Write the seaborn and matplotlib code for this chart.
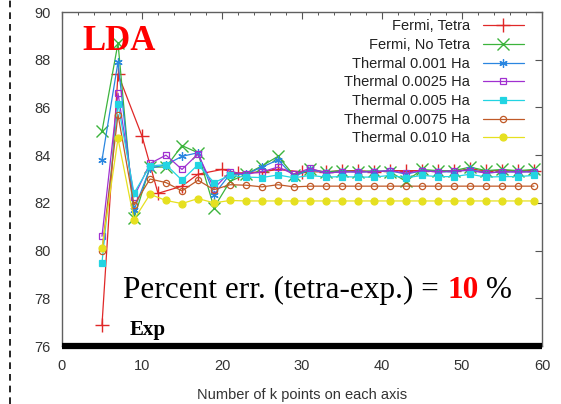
import matplotlib
matplotlib.use("Agg")
import matplotlib.pyplot as plt
import seaborn as sns
from matplotlib.ticker import MultipleLocator
from matplotlib.lines import Line2D

# ---------------- data ----------------
k_points = [5, 7, 9, 11, 13, 15, 17, 19, 21, 23, 25, 27, 29, 31, 33, 35, 37, 39,
            41, 43, 45, 47, 49, 51, 53, 55, 57, 59]
tetra_k = [5, 7, 10, 12, 15, 17, 20, 22, 25, 27, 30, 33, 35, 37, 39, 41, 43, 45,
           47, 49, 51, 53, 55, 57, 59]
fermi_tetra = [76.9, 87.4, 84.8, 82.4, 82.7, 83.2, 83.4, 83.25, 83.3, 83.4, 83.3, 83.3,
               83.35, 83.35, 83.3, 83.35, 83.35, 83.35, 83.35, 83.35, 83.4, 83.35,
               83.35, 83.35, 83.35]
fermi_no_tetra = [85.0, 88.7, 81.35, 83.5, 83.5, 84.4, 84.1, 81.8, 82.9, 83.2, 83.55,
                  83.95, 83.15, 83.4, 83.3, 83.35, 83.3, 83.35, 83.3, 82.9, 83.4, 83.35,
                  83.35, 83.5, 83.35, 83.4, 83.35, 83.4]
thermal_0001 = [83.8, 87.9, 81.7, 83.45, 83.6, 83.95, 84.1, 82.35, 83.2, 83.2, 83.5,
                83.8, 83.1, 83.4, 83.25, 83.3, 83.3, 83.3, 83.35, 83.2, 83.35, 83.3,
                83.3, 83.4, 83.25, 83.3, 83.3, 83.3]
thermal_00025 = [80.6, 86.6, 82.25, 83.65, 84.0, 83.4, 84.05, 82.6, 83.3, 83.2, 83.3,
                 83.5, 83.2, 83.45, 83.25, 83.3, 83.3, 83.3, 83.35, 83.25, 83.35, 83.3,
                 83.35, 83.35, 83.25, 83.3, 83.3, 83.3]
thermal_0005 = [79.5, 86.15, 82.4, 83.55, 83.6, 82.95, 83.6, 82.85, 83.15, 83.08, 83.06,
                83.17, 83.05, 83.15, 83.08, 83.1, 83.08, 83.08, 83.15, 83.05, 83.15, 83.1,
                83.1, 83.2, 83.08, 83.1, 83.1, 83.15]
thermal_00075 = [80.0, 85.7, 81.9, 83.0, 82.85, 82.5, 82.95, 82.55, 82.76, 82.74, 82.67,
                 82.76, 82.67, 82.7, 82.7, 82.7, 82.7, 82.7, 82.7, 82.7, 82.7, 82.7,
                 82.7, 82.7, 82.7, 82.7, 82.7, 82.7]
thermal_0010 = [80.1, 84.7, 81.3, 82.36, 82.1, 81.97, 82.18, 82.0, 82.1, 82.08, 82.08,
                82.08, 82.08, 82.08, 82.08, 82.08, 82.08, 82.08, 82.08, 82.08, 82.08,
                82.08, 82.08, 82.08, 82.08, 82.08, 82.08, 82.08]
labels = ["Fermi, Tetra", "Fermi, No Tetra", "Thermal 0.001 Ha", "Thermal 0.0025 Ha",
          "Thermal 0.005 Ha", "Thermal 0.0075 Ha", "Thermal 0.010 Ha"]
exp_x = [0, 60]
exp_y = [76, 76]
x_ticks = [0, 10, 20, 30, 40, 50, 60]
y_ticks = [76, 78, 80, 82, 84, 86, 88, 90]

# ---------------- style ----------------
sns.set_style("white")
plt.rcParams["font.family"] = ["Liberation Sans", "DejaVu Sans"]

fig = plt.figure(figsize=(5.61, 4.04), dpi=100)
ax = fig.add_axes([62 / 561, 1 - 346 / 404, 480 / 561, 334 / 404])

series = [
    (tetra_k, fermi_tetra, "#e02828", "+", 10, "full", 1.0),
    (k_points, fermi_no_tetra, "#3cb43c", "x", 9, "full", 1.0),
    (k_points, thermal_0001, "#2a86e0", (6, 2, 0), 6, "full", 0.9),
    (k_points, thermal_00025, "#a030d0", "s", 5, "none", 0.9),
    (k_points, thermal_0005, "#22d4e2", "s", 5, "full", 0.9),
    (k_points, thermal_00075, "#c05a28", "o", 4.5, "none", 0.9),
    (k_points, thermal_0010, "#e6e020", "o", 5, "full", 0.9),
]

for (xs, ys, col, mk, ms, fill, mew), lab in zip(series, labels):
    sns.lineplot(x=xs, y=ys, ax=ax, color=col, marker=mk, markersize=ms,
                 markeredgecolor=col,
                 markerfacecolor=("none" if fill == "none" else col),
                 markeredgewidth=mew, linewidth=0.9, label=lab, sort=False,
                 errorbar=None)

# experimental reference line
ax.plot(exp_x, exp_y, color="black", linewidth=4.5, solid_capstyle="butt",
        clip_on=False, zorder=5)

ax.set_xlim(0, 60)
ax.set_ylim(76, 90)
ax.set_xticks(x_ticks)
ax.set_yticks(y_ticks)
ax.xaxis.set_minor_locator(MultipleLocator(2))
ax.tick_params(which="major", direction="in", top=True, right=True, length=5,
               width=0.8, color="#555555", labelsize=10.5, labelcolor="#333333")
ax.tick_params(axis="x", which="major", pad=9)
ax.tick_params(axis="y", which="major", pad=8)
ax.tick_params(axis="x", which="minor", direction="in", top=True, bottom=True,
               length=2.5, width=0.7, color="#555555")
for s in ax.spines.values():
    s.set_color("#606060")
    s.set_linewidth(1.0)
ax.set_xlabel("Number of k points on each axis", fontsize=10.5, color="#333333",
              labelpad=11)
ax.set_ylabel("")

leg = ax.legend(loc="upper right", bbox_to_anchor=(0.962, 0.978), frameon=False,
                markerfirst=False, fontsize=10.5, handlelength=2.8,
                handletextpad=0.9, labelspacing=0.32, borderpad=0,
                borderaxespad=0)
for t in leg.get_texts():
    t.set_color("#222222")

# annotations
serif = ["Liberation Serif", "DejaVu Serif"]
ax.text(0.043, 0.885, "LDA", transform=ax.transAxes,
        fontsize=25, fontweight="bold", color="red", family=serif, va="baseline")
t1 = ax.text(0.128, 0.143, "Percent err. (tetra-exp.) = ", transform=ax.transAxes,
             fontsize=22.5, family=serif, color="black", va="baseline")
t2 = ax.annotate("10", xy=(1, 0), xycoords=t1, va="bottom", ha="left",
                 fontsize=22.5, family=serif, fontweight="bold", color="red")
t3 = ax.annotate(" %", xy=(1, 0), xycoords=t2, va="bottom", ha="left",
                 fontsize=22.5, family=serif, color="black")
ax.text(0.141, 0.033, "Exp", transform=ax.transAxes, fontsize=15,
        fontweight="bold", family=serif, color="black", va="baseline")

# dashed slide margin line on the far left
fig.add_artist(Line2D([10 / 561, 10 / 561], [0, 1], transform=fig.transFigure,
                      color="black", linestyle=(0, (4, 3)), linewidth=1.2))

fig.savefig("out.png", dpi=100)
